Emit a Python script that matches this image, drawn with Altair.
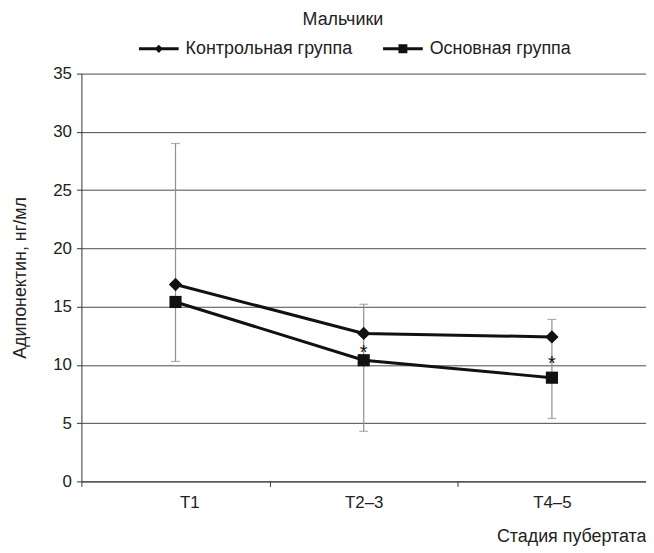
import altair as alt
import pandas as pd

categories = ["T1", "T2–3", "T4–5"]
series_names = ["Контрольная группа", "Основная группа"]
control = [16.9, 12.7, 12.4]
main = [15.4, 10.4, 8.9]
err_low = [10.3, 4.3, 5.4]
err_high = [29.0, 15.2, 13.9]
star_pos = [None, 11.5, 10.6]
y_ticks = [0, 5, 10, 15, 20, 25, 30, 35]

rows = []
for s, vals in zip(series_names, [control, main]):
    for c, v in zip(categories, vals):
        rows.append({"cat": c, "series": s, "value": v})
df = pd.DataFrame(rows)
df_err = pd.DataFrame({"cat": categories, "lo": err_low, "hi": err_high})
df_star = pd.DataFrame({"cat": categories, "star": star_pos}).dropna()

INK = "#111111"
TXT = "#222222"
ERR = "#8f8f8f"

x_enc = alt.X(
    "cat:N",
    sort=categories,
    scale=alt.Scale(domain=categories, paddingInner=0, paddingOuter=0),
    axis=alt.Axis(
        title="Стадия пубертата",
        titleAnchor="end",
        titlePadding=18,
        labelAngle=0,
        tickBand="extent",
        tickSize=5,
        labelPadding=8,
        labelOffset={"condition": {"test": "datum.value === 'T1'", "value": 14}, "value": 0},
        grid=False,
    ),
)
y_scale = alt.Scale(domain=[0, 35], nice=False, zero=True)
y_axis = alt.Axis(
    title="Адипонектин, нг/мл",
    values=y_ticks,
    grid=True,
    tickSize=5,
    labelPadding=5,
    titlePadding=23,
)

err_rule = alt.Chart(df_err).mark_rule(color=ERR, strokeWidth=1.2).encode(
    x=x_enc, y=alt.Y("lo:Q", scale=y_scale, axis=y_axis), y2="hi:Q"
)
err_lo = alt.Chart(df_err).mark_tick(color=ERR, thickness=1.2, size=9).encode(
    x=x_enc, y=alt.Y("lo:Q", scale=y_scale, axis=y_axis)
)
err_hi = alt.Chart(df_err).mark_tick(color=ERR, thickness=1.2, size=9).encode(
    x=x_enc, y=alt.Y("hi:Q", scale=y_scale, axis=y_axis)
)

lines = alt.Chart(df).mark_line(color=INK, strokeWidth=3).encode(
    x=x_enc,
    y=alt.Y("value:Q", scale=y_scale, axis=y_axis),
    detail="series:N",
)

points = alt.Chart(df).mark_point(filled=True, color=INK, opacity=1).encode(
    x=x_enc,
    y=alt.Y("value:Q", scale=y_scale, axis=y_axis),
    shape=alt.Shape("series:N", scale=alt.Scale(domain=series_names, range=["diamond", "square"]), legend=None),
    size=alt.Size("series:N", scale=alt.Scale(domain=series_names, range=[180, 150]), legend=None),
)

stars = alt.Chart(df_star).mark_text(text="*", fontSize=20, color=INK, baseline="middle", dy=6).encode(
    x=x_enc, y=alt.Y("star:Q", scale=y_scale, axis=y_axis)
)

# legend glyphs: filled bar (the line) plus the marker, in unit coordinates
path_ctrl = "M-2,-0.15L2,-0.15L2,0.15L-2,0.15Z M0,-0.42L0.42,0L0,0.42L-0.42,0Z"
path_main = "M-2,-0.15L2,-0.15L2,0.15L-2,0.15Z M-0.45,-0.45L0.45,-0.45L0.45,0.45L-0.45,0.45Z"
legend_layer = alt.Chart(df).transform_filter("false").mark_point(
    filled=True, color=INK, opacity=1
).encode(
    x=x_enc,
    y=alt.Y("value:Q", scale=y_scale, axis=y_axis),
    shape=alt.Shape(
        "series:N",
        scale=alt.Scale(domain=series_names, range=[path_ctrl, path_main]),
        legend=alt.Legend(
            title=None,
            orient="none",
            legendX=68,
            legendY=-35,
            direction="horizontal",
            symbolSize=400,
            symbolStrokeWidth=0,
            symbolFillColor=INK,
            symbolOpacity=1,
            labelFontSize=18,
            labelColor=TXT,
            labelOffset=17,
            labelLimit=400,
            columnPadding=31,
            padding=0,
        ),
    ),
)

chart = (
    alt.layer(err_rule, err_lo, err_hi, lines, points, stars, legend_layer)
    .resolve_scale(shape="independent", size="independent")
    .properties(
        width=569,
        height=411,
        autosize=alt.AutoSizeParams(type="none"),
        padding={"left": 74, "top": 64, "right": 0, "bottom": 64},
        title=alt.TitleParams("Мальчики", fontSize=18, fontWeight="normal", color=TXT,
                              anchor="middle", frame="group", dx=-21, offset=10),
    )
    .configure(font="Liberation Sans")
    .configure_view(stroke=None)
    .configure_axis(
        domainColor="#333333",
        tickColor="#333333",
        gridColor="#4a4a4a",
        gridWidth=1,
        labelFontSize=17,
        labelColor=TXT,
        titleFontSize=18,
        titleFontWeight="normal",
        titleColor=TXT,
    )
)

chart.save("out.html", embed_options={"renderer": "svg", "actions": False})
